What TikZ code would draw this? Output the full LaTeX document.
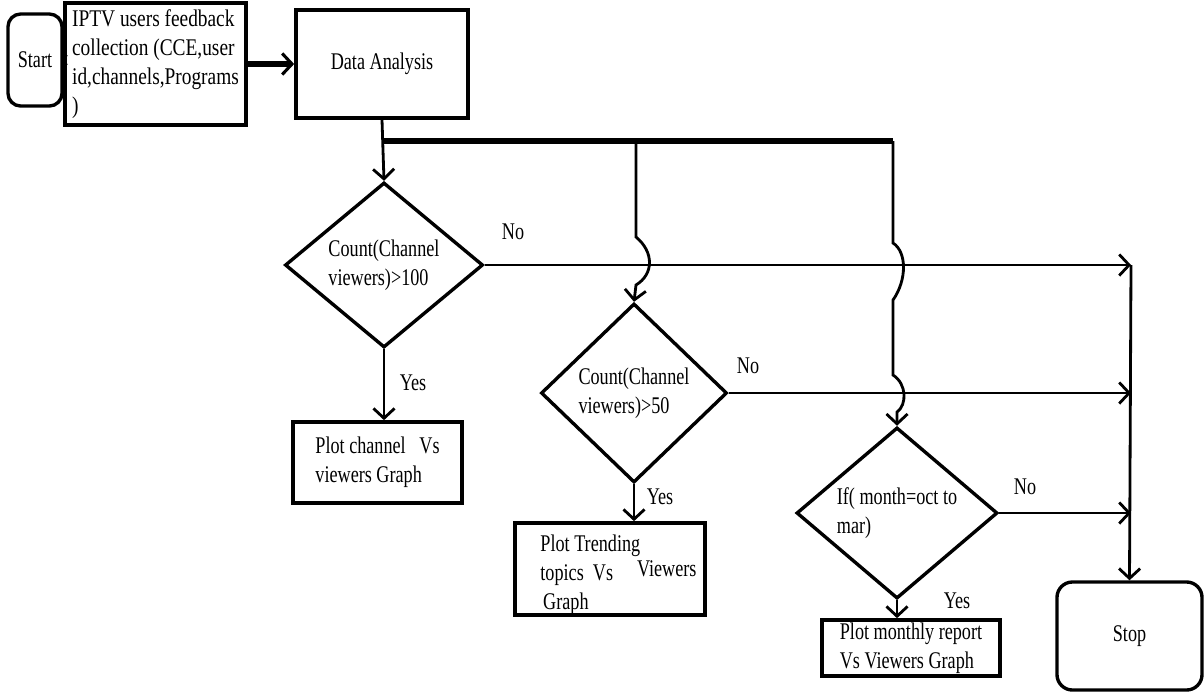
\documentclass[tikz,border=0pt]{standalone}
\usepackage{fontspec}
\setmainfont{Liberation Serif}[FakeStretch=0.76]
\newfontfamily\widefont{Liberation Serif}[FakeStretch=0.81]
\usepackage{tikz}
\usetikzlibrary{arrows.meta,shapes.geometric,calc}
\newcommand{\flowfont}{\fontsize{17}{20.6}\selectfont}

\begin{document}
\begin{tikzpicture}[x=0.025cm,y=-0.025cm,
  every node/.style={font=\flowfont},
  box/.style={draw,line width=2.6pt,inner sep=2pt},
  term/.style={draw,line width=2.4pt,rounded corners=9pt,inner sep=2pt},
  test/.style={draw,diamond,line width=2.4pt,inner sep=0pt,align=left},
  arr/.style={line width=2pt,-{Straight Barb[length=7pt,width=15pt,line width=2pt]}},
  line/.style={line width=2pt}]
\useasboundingbox (0,0) rectangle (1204,693);
\node (start) at (35,60) [term, minimum width=1.35cm, minimum height=2.3cm]{Start};
\node (collect) at (155.5,64) [box, minimum width=4.525cm, minimum height=3.05cm, align=left, font=\flowfont\widefont]{IPTV users feedback\\collection (CCE,user\\id,channels,Programs\\)};
\node (analysis) at (382,64) [box, minimum width=4.3cm, minimum height=2.7cm]{Data Analysis};
\draw[line width=1.2pt,-{Straight Barb[length=2pt,width=7pt,line width=1.2pt]}] (start.east) -- (start.east -| collect.west);
\draw[line width=3.6pt,-{Straight Barb[length=7pt,width=15pt,line width=2.2pt]}] (collect.east) -- (collect.east -| analysis.west);

% decisions
\node (d1) at (384,265) [test, minimum width=4.95cm, minimum height=4.125cm]{Count(Channel\\viewers)>100};
\node (d2) at (634,393) [test, minimum width=4.65cm, minimum height=4.475cm]{Count(Channel\\viewers)>50};
\node (d3) at (897,513) [test, minimum width=5.025cm, minimum height=4.25cm]{If( month=oct to\\mar)};

% outputs
\node (plot1) at (377.5,462.5) [box, minimum width=4.225cm, minimum height=2.025cm, align=left]{Plot channel\ \ \ Vs\\viewers Graph};
\node (plot2) at (610,569) [box, inner ysep=0pt, minimum width=4.75cm, minimum height=2.3cm, align=left]{\hspace*{12pt}\rule{0pt}{20pt}Plot Trending\\\hspace*{12pt}topics\ \ Vs\hspace{17pt}\raisebox{3pt}{Viewers}\\\hspace*{14pt}Graph};
\node (plot3) at (911,648) [box, inner sep=0pt, minimum width=4.45cm, minimum height=1.4cm, align=left]{Plot monthly report\\Vs Viewers Graph};
\node (stop) at (1129.5,636) [term, rounded corners=11pt, minimum width=3.625cm, minimum height=2.7cm]{Stop};

\coordinate (bus1) at (analysis.south |- 0,141);
\coordinate (bus2) at (636,141);
\coordinate (bus3) at (893,141);
\coordinate (j1) at (1131,265);
\coordinate (j2) at (1131,393);
\coordinate (j3) at (1131,513);

\draw[arr] (analysis.south) -- (d1.north);
\draw[line width=3.6pt] (bus1) -- (bus3);
\draw[arr] (bus2) -- (636,237) .. controls (654,252) and (654,274) .. (636,285) -- (d2.north);
\draw[arr] (bus3) -- (893,243) .. controls (907,252) and (907,280) .. (893,300) -- (893,375)
  .. controls (907,384) and (907,405) .. (897,412) -- (d3.north);

\draw[arr] (d1.east) -- (j1);
\draw[arr] (d2.east) -- (j2);
\draw[arr] (d3.east) -- (j3);
\draw[arr] (j1) -- (stop.north);

\draw[arr] (d1.south) -- (d1.south |- plot1.north);
\draw[arr] (d2.south) -- (d2.south |- plot2.north);
\draw[arr] (d3.south) -- (d3.south |- plot3.north);

\node (no1) at (513,232) {No};
\node (no2) at (748,366) {No};
\node (no3) at (1025,487) {No};
\node (yes1) at (413,383) {Yes};
\node (yes2) at (660,497) {Yes};
\node (yes3) at (957,601) {Yes};
\end{tikzpicture}
\end{document}
